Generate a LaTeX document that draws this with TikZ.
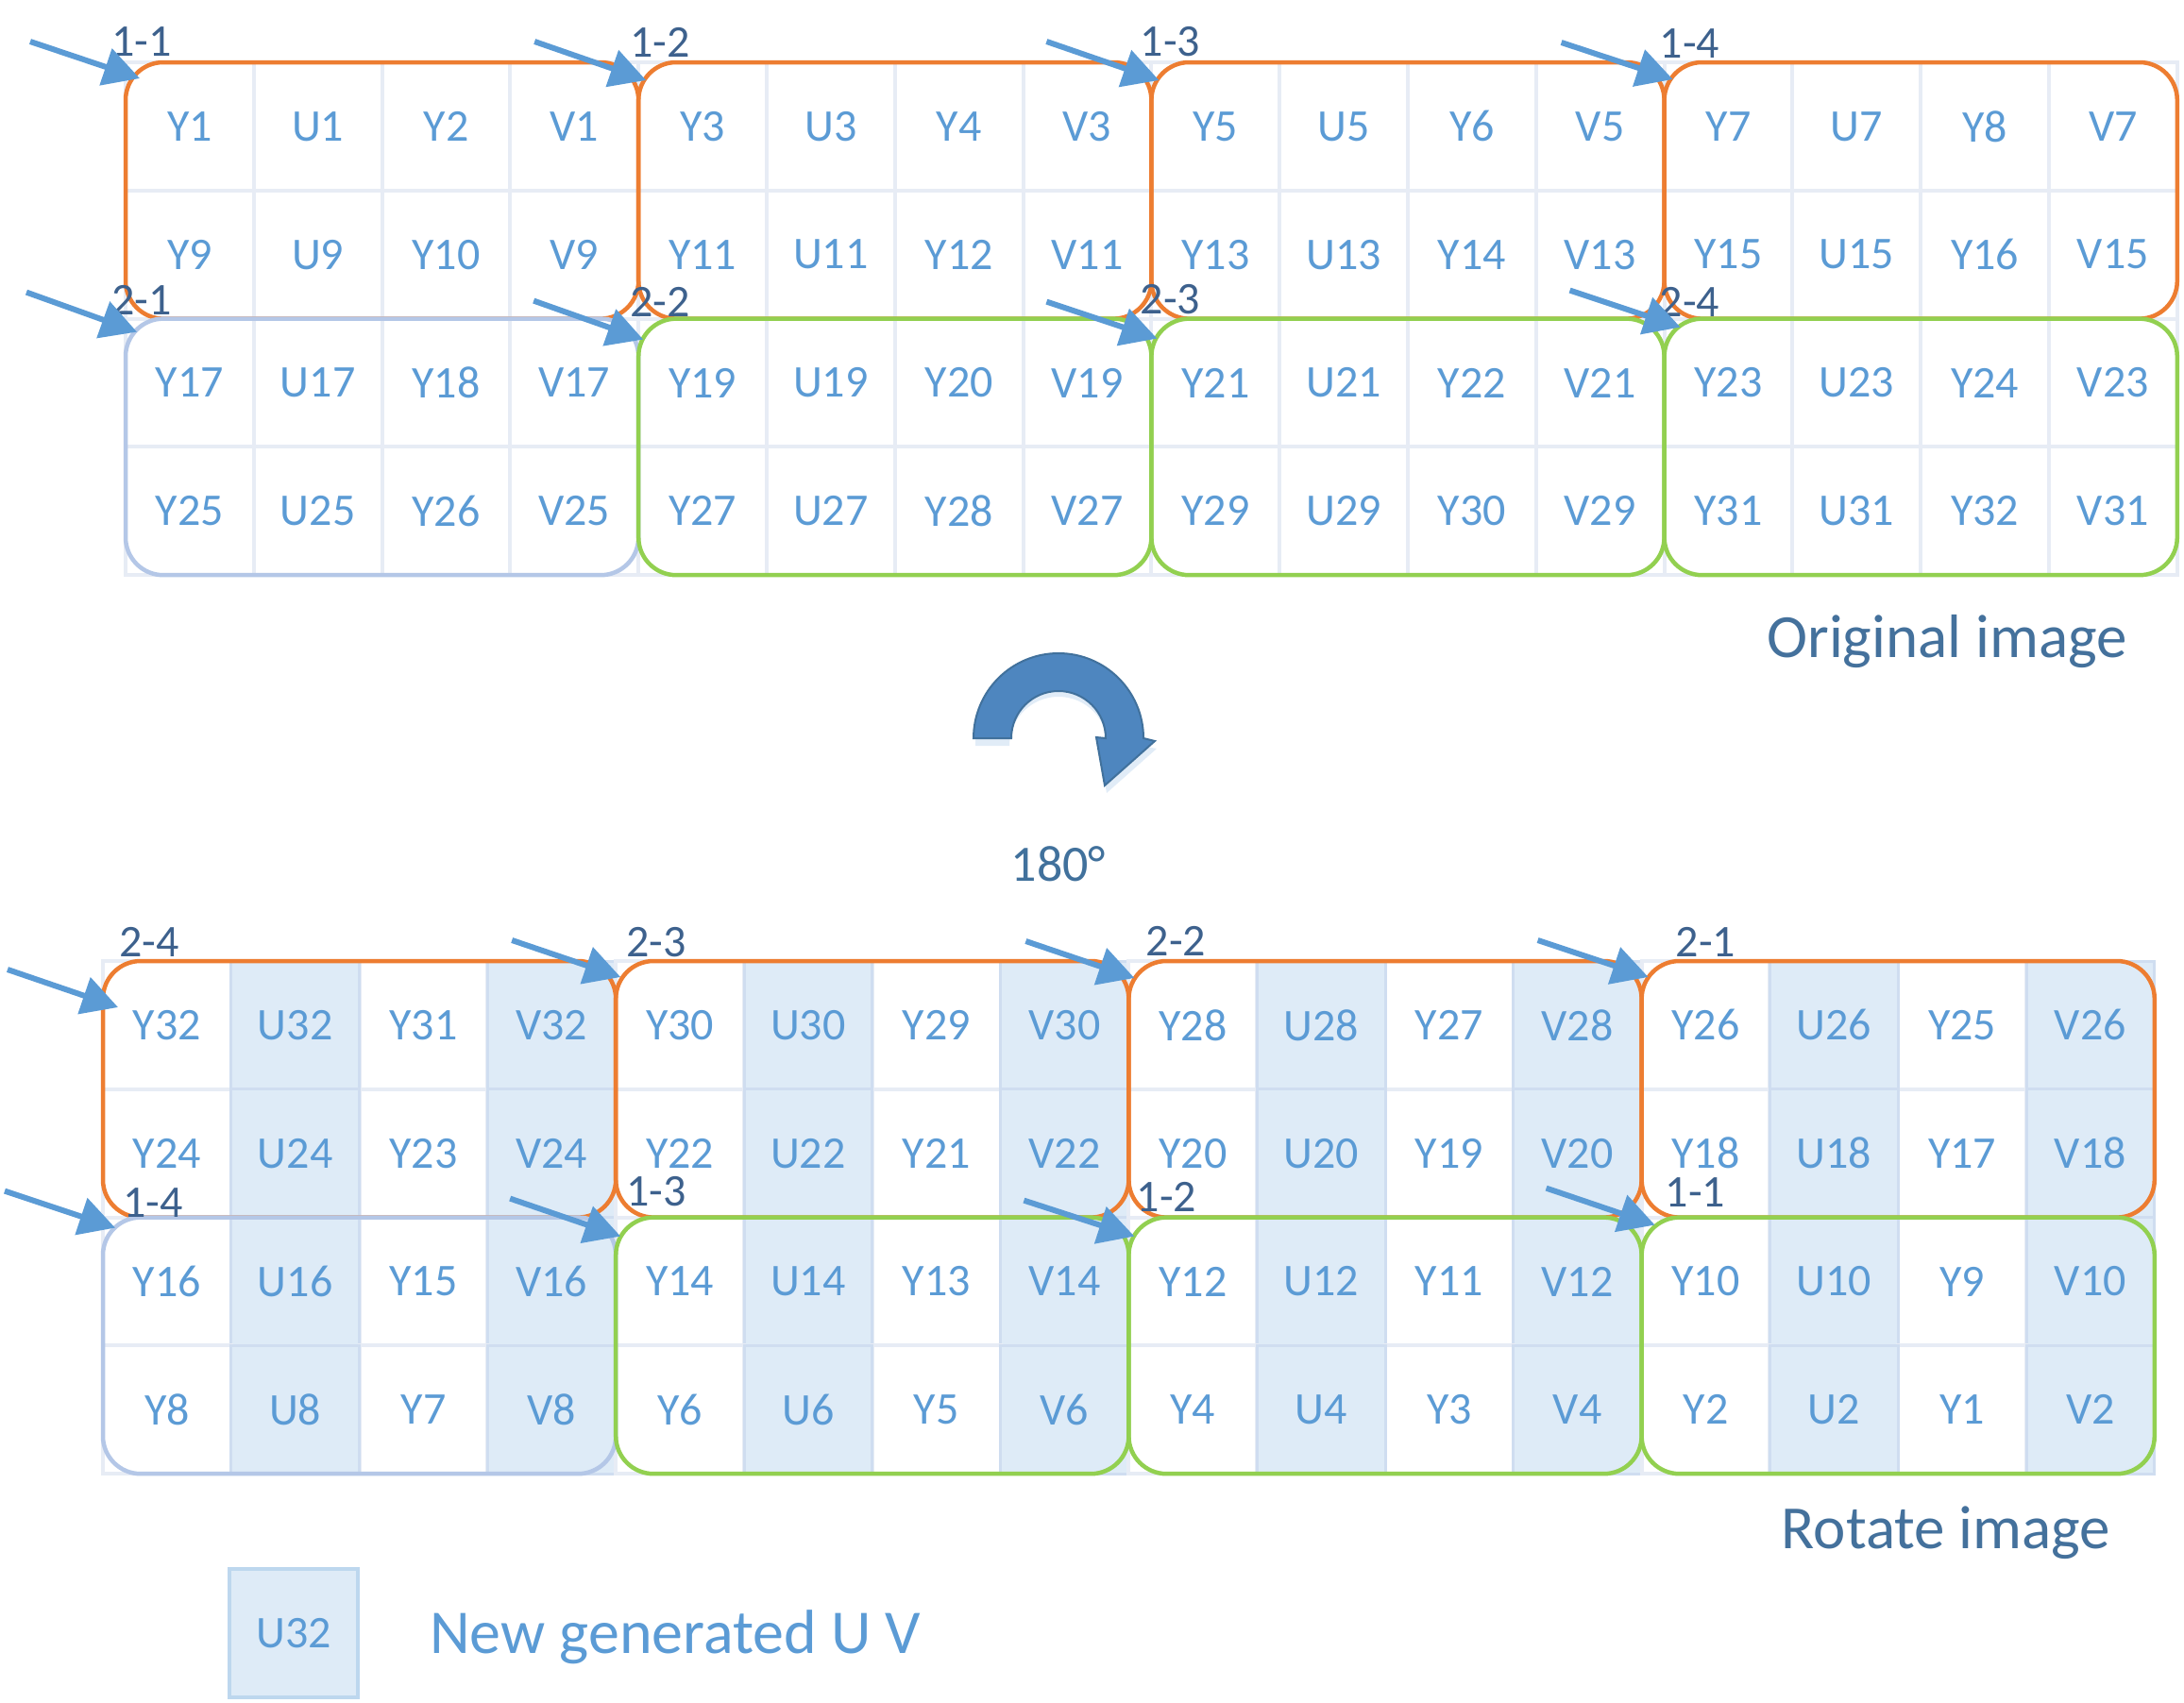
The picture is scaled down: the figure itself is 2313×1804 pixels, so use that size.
\documentclass[tikz,border=0pt]{standalone}
\usepackage{fontspec}
\setmainfont{Carlito}
\usetikzlibrary{arrows.meta,calc}
\definecolor{cellblue}{HTML}{5B9BD5}
\definecolor{labelblue}{HTML}{3D618D}
\definecolor{gridline}{HTML}{E7ECF5}
\definecolor{uvfill}{HTML}{DEEBF7}
\definecolor{uvline}{HTML}{CFDDF0}
\definecolor{boxorange}{HTML}{ED7D31}
\definecolor{boxgreen}{HTML}{92D050}
\definecolor{boxgrey}{HTML}{B4C7E7}
\definecolor{titleblue}{HTML}{44719C}
\definecolor{rotfill}{HTML}{4E86BF}
\definecolor{rotline}{HTML}{41719C}
\definecolor{legline}{HTML}{BDD7EE}
\begin{document}
\begin{tikzpicture}[x=1pt,y=-1pt,
  cell/.style={draw=gridline, line width=4pt, fill=white, minimum width=135.8pt, minimum height=135.8pt,
    inner sep=0pt, outer sep=0pt, text=cellblue, font=\fontsize{48}{56}\selectfont},
  uvcell/.style={cell, fill=uvfill, draw=uvline, line width=3pt},
  grp/.style={line width=4.5pt, rounded corners=40pt, minimum width=543.2pt, minimum height=271.6pt,
    inner sep=0pt, outer sep=0pt},
  lab/.style={text=labelblue, inner sep=0pt, font=\fontsize{48}{54}\selectfont},
  ptr/.style={draw=cellblue, line width=6pt, -{Triangle[length=38pt,width=40pt]}},
  title/.style={text=titleblue, inner sep=0pt, anchor=base, font=\fontsize{65}{72}\selectfont}
]
\useasboundingbox (0,0) rectangle (2313,1804);
\fill[white] (0,0) rectangle (2313,1804);

% ---------- original image cells ----------
\foreach \r in {1,...,4}{
  \foreach \g in {1,...,4}{
    \pgfmathtruncatemacro{\nA}{8*(\r-1)+2*\g-1}
    \pgfmathtruncatemacro{\nB}{\nA+1}
    \foreach \p/\lbl in {1/Y\nA, 2/U\nA, 3/Y\nB, 4/V\nA}{
      \node[cell] (t-\r-\g-\p) at ({133+135.8*(4*(\g-1)+\p-0.5)},{66+135.8*(\r-0.5)}) {\lbl};
    }
  }
}

% ---------- rotated image cells ----------
\foreach \r in {1,...,4}{
  \foreach \g in {1,...,4}{
    \pgfmathtruncatemacro{\nA}{32-8*(\r-1)-2*(\g-1)}
    \pgfmathtruncatemacro{\nB}{\nA-1}
    \foreach \p/\lbl in {1/Y\nA, 3/Y\nB}{
      \node[cell] (r-\r-\g-\p) at ({109+135.8*(4*(\g-1)+\p-0.5)},{1018+135.8*(\r-0.5)}) {\lbl};
    }
    \foreach \p/\lbl in {2/U\nA, 4/V\nA}{
      \node[uvcell] (r-\r-\g-\p) at ({109+135.8*(4*(\g-1)+\p-0.5)},{1018+135.8*(\r-0.5)}) {\lbl};
    }
  }
}

% ---------- groups ----------
\def\boxlist{%
T11/1-1/133/66/boxorange/17/-22/-101/-22/15/17,
T12/1-2/676.2/66/boxorange/23/-21/-110/-22/8/19,
T13/1-3/1219.4/66/boxorange/20/-22/-111/-22/8/19,
T14/1-4/1762.6/66/boxorange/27/-20/-109/-21/9/18,
T21/2-1/133/337.6/boxgrey/17/-20/-105/-28/12/14,
T22/2-2/676.2/337.6/boxgreen/23/-18/-111/-19/5/22,
T23/2-3/1219.4/337.6/boxgreen/20/-21/-111/-18/6/21,
T24/2-4/1762.6/337.6/boxgreen/27/-18/-100/-30/17/9,
B24/2-4/109/1018/boxorange/49/-20/-101/9/16/49,
B23/2-3/652.2/1018/boxorange/43/-20/-110/-22/5/17,
B22/2-2/1195.4/1018/boxorange/50/-21/-109/-21/6/18,
B21/2-1/1738.6/1018/boxorange/68/-20/-110/-22/7/17,
B14/1-4/109/1289.6/boxgrey/53/-16/-104/-28/13/11,
B13/1-3/652.2/1289.6/boxgreen/43/-28/-112/-20/5/20,
B12/1-2/1195.4/1289.6/boxgreen/40/-22/-111/-18/6/20,
B11/1-1/1738.6/1289.6/boxgreen/57/-27/-101/-31/14/8}

\foreach \nm/\lab/\cx/\cy/\col/\lx/\ly/\ax/\ay/\hx/\hy in \boxlist{
  \node[grp, draw=\col] (\nm) at ({\cx+271.6},{\cy+135.8}) {};
}
\foreach \nm/\lab/\cx/\cy/\col/\lx/\ly/\ax/\ay/\hx/\hy in \boxlist{
  \node[lab] (L\nm) at ({\cx+\lx},{\cy+\ly}) {\lab};
  \coordinate (A\nm) at ({\cx+\ax},{\cy+\ay});
  \coordinate (H\nm) at ({\cx+\hx},{\cy+\hy});
  \draw[ptr] (A\nm) -- (H\nm);
}

% ---------- titles ----------
\node[title] (orig) at (2062,696) {Original image};
\node[title] (rot) at (2061,1640) {Rotate image};

% ---------- rotation arrow ----------
\begin{scope}[shift={(1121,782)}]
  \fill[legline, opacity=0.45] (-88,8) arc[start angle=180,end angle=360,radius=88] -- (104,11) -- (51,58) -- (42,7) -- (52,8) arc[start angle=360,end angle=180,radius=52] -- cycle;
  \filldraw[fill=rotfill, draw=rotline, line width=2pt]
    (-90,0) arc[start angle=180,end angle=360,radius=90] -- (102,3) -- (49,50) -- (40,-1) -- (50,0)
    arc[start angle=360,end angle=180,radius=50] -- cycle;
\end{scope}
\node[inner sep=0pt, anchor=base, text=rotline, font=\fontsize{54}{60}\selectfont] (deg) at (1121,933) {180°};

% ---------- legend ----------
\node[cell, fill=uvfill, draw=legline, line width=4pt] (leg) at (311,1730) {U32};
\node[inner sep=0pt, anchor=base, text=cellblue, font=\fontsize{66}{72}\selectfont] (legtext) at (715,1751) {New generated U V};
\end{tikzpicture}
\end{document}
